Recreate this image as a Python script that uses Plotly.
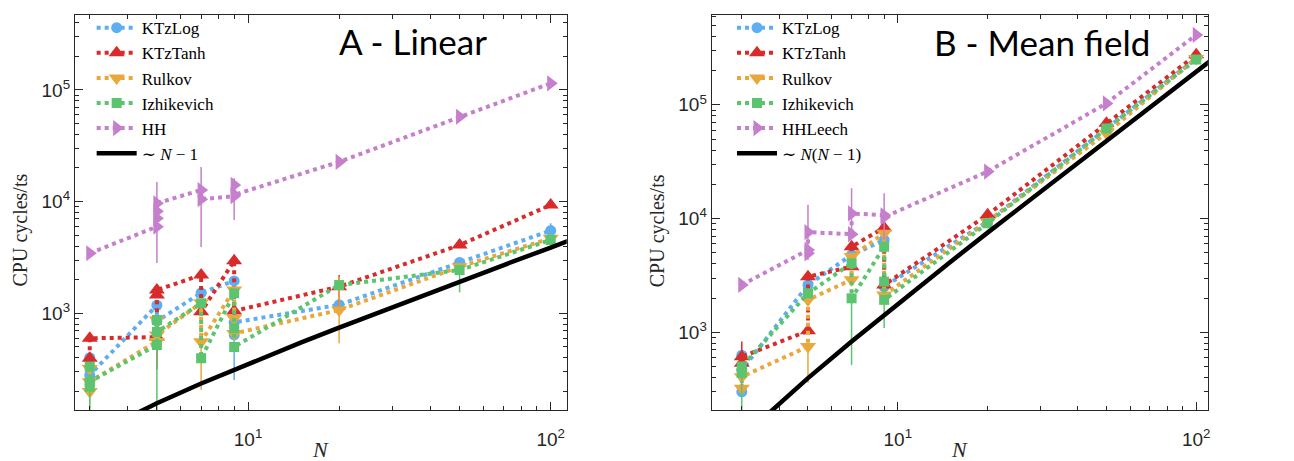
import plotly.graph_objects as go

# ---------------- Panel A: linear coupling ----------------
A_KTZLOG_N = [3, 3, 5, 5, 7, 9, 9, 9, 20, 50, 100]
A_KTZLOG_C = [400, 280, 1180, 850, 1520, 1950, 640, 830, 1190, 2850, 5500]
A_KTZLOG_EP = [0, 0, 0, 0, 0, 0, 0, 0, 0, 300, 900]
A_KTZLOG_EM = [0, 0, 0, 0, 0, 0, 387, 0, 0, 0, 0]

A_KTZTANH_N = [3, 3, 5, 5, 5, 7, 7, 9, 9, 20, 50, 100]
A_KTZTANH_C = [395, 597, 612, 1460, 1616, 2200, 1030, 2950, 1050, 1730, 4080, 9330]
A_KTZTANH_EP = [0, 0, 0, 0, 0, 0, 0, 300, 0, 470, 0, 0]
A_KTZTANH_EM = [0, 0, 300, 0, 0, 0, 0, 0, 0, 660, 0, 0]

A_RULKOV_N = [3, 3, 3, 5, 5, 5, 7, 7, 9, 9, 9, 20, 50, 100]
A_RULKOV_C = [320, 199, 244, 560, 870, 640, 1240, 557, 1620, 905, 660, 1070, 2610, 4690]
A_RULKOV_EP = [0, 0, 0, 0, 0, 0, 0, 0, 0, 0, 0, 1060, 0, 0]
A_RULKOV_EM = [0, 60, 0, 0, 0, 0, 0, 350, 0, 0, 0, 530, 0, 0]

A_IZH_N = [3, 3, 3, 5, 5, 5, 7, 7, 9, 9, 9, 20, 50, 100]
A_IZH_C = [333, 220, 244, 520, 870, 680, 1230, 395, 1510, 735, 500, 1790, 2440, 4540]
A_IZH_EP = [0, 0, 0, 0, 0, 0, 0, 0, 0, 0, 0, 0, 0, 0]
A_IZH_EM = [0, 100, 0, 390, 0, 0, 0, 0, 0, 0, 0, 0, 900, 0]

A_HH_N = [3, 5, 5, 5, 5, 7, 7, 9, 9, 9, 20, 50, 100]
A_HH_C = [3450, 5960, 7080, 8200, 9660, 12700, 10500, 11200, 14100, 11500, 22700, 57500, 114600]
A_HH_EP = [0, 0, 7900, 0, 0, 0, 9900, 5000, 0, 0, 0, 0, 0]
A_HH_EM = [0, 0, 4260, 0, 0, 0, 6570, 4360, 0, 0, 0, 0, 0]

A_SCALE = 39.2            # prefactor of the ~ N-1 guide
# ---------------- Panel B: mean-field coupling ----------------
B_KTZLOG_N = [3, 3, 3, 5, 7, 9, 9, 20, 50, 100]
B_KTZLOG_C = [630, 300, 465, 2610, 4790, 6480, 2520, 9400, 61800, 256000]

B_KTZTANH_N = [3, 3, 5, 5, 7, 7, 9, 9, 20, 50, 100]
B_KTZTANH_C = [535, 610, 1030, 3080, 3780, 5660, 8300, 2610, 10800, 68800, 275000]
B_KTZTANH_EP = [0, 220, 0, 0, 0, 0, 0, 0, 0, 0, 0]
B_KTZTANH_EM = [0, 0, 0, 0, 0, 0, 0, 0, 0, 0, 0]

B_RULKOV_N = [3, 3, 5, 5, 7, 7, 9, 9, 20, 50, 100]
B_RULKOV_C = [322, 407, 750, 1930, 2900, 4640, 7440, 2130, 9400, 56400, 256000]
B_RULKOV_EP = [0, 0, 0, 0, 0, 0, 0, 0, 0, 0, 0]
B_RULKOV_EM = [0, 0, 390, 0, 0, 0, 0, 0, 0, 0, 0]

B_IZH_N = [3, 3, 5, 7, 7, 9, 9, 9, 20, 50, 100]
B_IZH_C = [440, 500, 2200, 4050, 1990, 5660, 2790, 1930, 9100, 61800, 250000]
B_IZH_EP = [0, 0, 0, 0, 0, 0, 0, 0, 0, 0, 0]
B_IZH_EM = [250, 0, 0, 0, 1474, 0, 0, 840, 0, 0, 0]

B_HH_N = [3, 5, 5, 5, 7, 7, 9, 9, 20, 50, 100]
B_HH_C = [2610, 5300, 4950, 7600, 7300, 11100, 10700, 10300, 25900, 103000, 412000]
B_HH_EP = [0, 0, 0, 5600, 0, 7400, 6000, 0, 0, 0, 0]
B_HH_EM = [0, 0, 0, 3270, 0, 3000, 4200, 0, 0, 0, 0]

B_SCALE = 19.8            # prefactor of the ~ N(N-1) guide

GUIDE_N = [1.5, 2, 3, 5, 7, 10, 15, 20, 30, 50, 70, 100, 130]

C_LOG = "#5eaef2"
C_TANH = "#d82b2b"
C_RULK = "#e8a83c"
C_IZH = "#5cc46e"
C_HH = "#c67fcc"

SERIF = "Liberation Serif, DejaVu Serif, Times New Roman, serif"
SANS = "Liberation Sans, Arial, sans-serif"
AXC = "#262626"

fig = go.Figure()


def add_series(n, c, name, color, symbol, size, xa, ya, leg, ep=None, em=None):
    err = None
    if ep is not None or em is not None:
        ep = ep if ep is not None else [0] * len(n)
        em = em if em is not None else [0] * len(n)
        err = dict(type="data", symmetric=False, array=ep, arrayminus=em,
                   color=color, thickness=1.5, width=0)
    fig.add_trace(go.Scatter(
        x=n, y=c, name=name, mode="lines+markers",
        line=dict(color=color, width=4, dash="dot"),
        marker=dict(color=color, symbol=symbol, size=size, line=dict(width=0)),
        error_y=err, xaxis=xa, yaxis=ya, legend=leg))


# Panel A
add_series(A_KTZLOG_N, A_KTZLOG_C, "KTzLog", C_LOG, "circle", 11, "x", "y", "legend", A_KTZLOG_EP, A_KTZLOG_EM)
add_series(A_KTZTANH_N, A_KTZTANH_C, "KTzTanh", C_TANH, "triangle-up", 14, "x", "y", "legend", A_KTZTANH_EP, A_KTZTANH_EM)
add_series(A_RULKOV_N, A_RULKOV_C, "Rulkov", C_RULK, "triangle-down", 14, "x", "y", "legend", A_RULKOV_EP, A_RULKOV_EM)
add_series(A_IZH_N, A_IZH_C, "Izhikevich", C_IZH, "square", 10, "x", "y", "legend", A_IZH_EP, A_IZH_EM)
add_series(A_HH_N, A_HH_C, "HH", C_HH, "triangle-right", 14, "x", "y", "legend", A_HH_EP, A_HH_EM)
fig.add_trace(go.Scatter(
    x=GUIDE_N, y=[A_SCALE * (n - 1) for n in GUIDE_N], mode="lines",
    name="∼ <i>N</i> − 1", line=dict(color="black", width=4.5),
    xaxis="x", yaxis="y", legend="legend"))

# Panel B
add_series(B_KTZLOG_N, B_KTZLOG_C, "KTzLog", C_LOG, "circle", 11, "x2", "y2", "legend2")
add_series(B_KTZTANH_N, B_KTZTANH_C, "KTzTanh", C_TANH, "triangle-up", 14, "x2", "y2", "legend2", B_KTZTANH_EP, B_KTZTANH_EM)
add_series(B_RULKOV_N, B_RULKOV_C, "Rulkov", C_RULK, "triangle-down", 14, "x2", "y2", "legend2", B_RULKOV_EP, B_RULKOV_EM)
add_series(B_IZH_N, B_IZH_C, "Izhikevich", C_IZH, "square", 10, "x2", "y2", "legend2", B_IZH_EP, B_IZH_EM)
add_series(B_HH_N, B_HH_C, "HHLeech", C_HH, "triangle-right", 14, "x2", "y2", "legend2", B_HH_EP, B_HH_EM)
fig.add_trace(go.Scatter(
    x=GUIDE_N, y=[B_SCALE * n * (n - 1) for n in GUIDE_N], mode="lines",
    name="∼ <i>N</i>(<i>N</i> − 1)", line=dict(color="black", width=4.5),
    xaxis="x2", yaxis="y2", legend="legend2"))


def minor_vals(lo, hi):
    return [m * 10 ** d for d in range(lo, hi) for m in range(2, 10)]


def log_axis(domain, rng, tickvals, ticktext, minor, anchor, **kw):
    return dict(
        type="log", domain=domain, range=rng, anchor=anchor,
        tickvals=tickvals, ticktext=ticktext,
        ticks="inside", ticklen=8, tickwidth=1, tickcolor=AXC,
        minor=dict(tickvals=minor, ticks="inside", ticklen=4, tickwidth=1, tickcolor=AXC, showgrid=False),
        showline=True, linecolor=AXC, linewidth=1, mirror="allticks",
        showgrid=False, zeroline=False,
        tickfont=dict(family=SANS, size=19, color=AXC), **kw)


XT = [10, 100]
XTT = ["10<sup>1</sup>", "10<sup>2</sup>"]
YT = [1e3, 1e4, 1e5]
YTT = ["10<sup>3</sup>", "10<sup>4</sup>", "10<sup>5</sup>"]

leg_style = dict(font=dict(family=SERIF, size=17, color="black"),
                 bgcolor="rgba(255,255,255,0)", borderwidth=0,
                 xanchor="left", yanchor="top", tracegroupgap=0, itemwidth=40)

fig.update_layout(
    width=1294, height=461,
    margin=dict(l=0, r=0, t=0, b=0),
    paper_bgcolor="white", plot_bgcolor="white",
    xaxis=log_axis([0.058, 0.439], [0.428, 2.053], XT, XTT, minor_vals(0, 3), "y", ticklabelstandoff=12),
    yaxis=log_axis([0.1106, 0.9675], [2.134, 5.671], YT, YTT, minor_vals(2, 6), "x"),
    xaxis2=log_axis([0.5512, 0.9356], [0.376, 2.039], XT, XTT, minor_vals(0, 3), "y2", ticklabelstandoff=12),
    yaxis2=log_axis([0.1106, 0.9675], [2.317, 5.79], YT, YTT, minor_vals(2, 6), "x2"),
    legend=dict(x=0.071, y=0.978, **leg_style),
    legend2=dict(x=0.567, y=0.978, **leg_style),
    showlegend=True,
)

annots = [
    dict(text="A - Linear", x=0.3196, y=0.911, font=dict(family="Lato", size=35, color="black")),
    dict(text="B - Mean field", x=0.8072, y=0.909, font=dict(family="Lato", size=35, color="black")),
    dict(text="<i>N</i>", x=0.2486, y=0.024, font=dict(family=SERIF, size=22, color=AXC)),
    dict(text="<i>N</i>", x=0.7432, y=0.024, font=dict(family=SERIF, size=22, color=AXC)),
    dict(text="CPU cycles/ts", x=0.0155, y=0.50, textangle=-90, font=dict(family=SERIF, size=20, color=AXC)),
    dict(text="CPU cycles/ts", x=0.5095, y=0.50, textangle=-90, font=dict(family=SERIF, size=20, color=AXC)),
]
for a in annots:
    fig.add_annotation(xref="paper", yref="paper", showarrow=False,
                       xanchor="center", yanchor="middle", **a)

fig.write_html("out.html")
